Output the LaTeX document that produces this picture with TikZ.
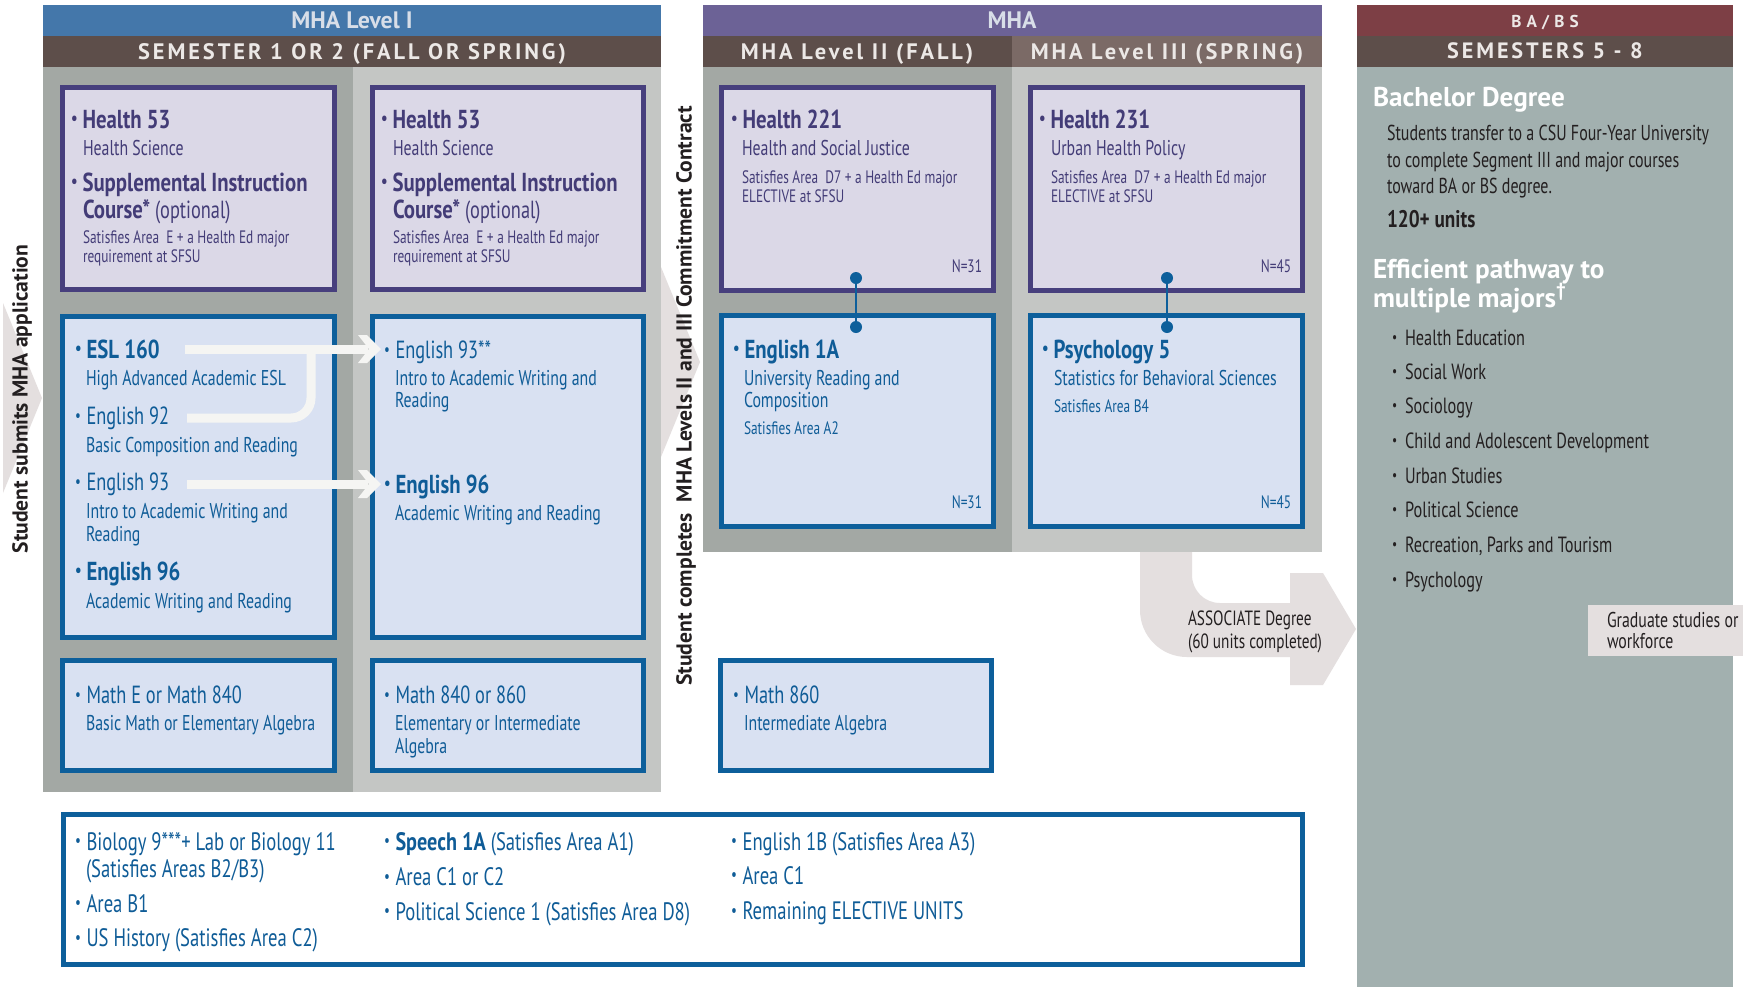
\documentclass[tikz,border=0pt]{standalone}
\usepackage{fontspec}
\usepackage{graphicx}
\setmainfont{PT Sans}
\newfontfamily\cn[FakeStretch=0.74, BoldFeatures={FakeStretch=0.80}]{PT Sans}
\newfontfamily\hsp[LetterSpace=13]{PT Sans}
\newfontfamily\hspw[LetterSpace=30]{PT Sans}
\usetikzlibrary{fit}
\definecolor{hblue}{HTML}{4477AA}
\definecolor{band}{HTML}{5D4E4A}
\definecolor{band2}{HTML}{7B6A66}
\definecolor{hpurp}{HTML}{6C6296}
\definecolor{hred}{HTML}{7D3F45}
\definecolor{gdark}{HTML}{A3A8A4}
\definecolor{glight}{HTML}{C4C6C4}
\definecolor{tealp}{HTML}{A2B0AF}
\definecolor{pbord}{HTML}{473F7D}
\definecolor{pfill}{HTML}{DBD8E7}
\definecolor{ptext}{HTML}{433C77}
\definecolor{bbord}{HTML}{0D5F9B}
\definecolor{bfill}{HTML}{D9E1F2}
\definecolor{btext}{HTML}{0F5C97}
\definecolor{arrowg}{HTML}{E4DFDF}
\definecolor{warr}{HTML}{F5F5F3}
\definecolor{htext}{HTML}{D8DEE8}
\definecolor{htext2}{HTML}{ECE8E6}
\definecolor{darkt}{HTML}{231F20}
\newcommand\fT{\cn\bfseries\fontsize{13}{15}\selectfont}
\newcommand\fR{\cn\fontsize{12.4}{15}\selectfont}
\newcommand\fS{\cn\fontsize{10.7}{12}\selectfont}
\newcommand\fN{\cn\fontsize{9}{10}\selectfont}
\newcommand\fB{\cn\fontsize{12.6}{14}\selectfont}
\newcommand\fM{\cn\fontsize{11}{13}\selectfont}
\newcommand\bl{\makebox[5.75pt][l]{\raisebox{0.12em}{\scalebox{0.7}{\textbullet}}}}
\newcommand\blm{\makebox[6.5pt][l]{\raisebox{0.12em}{\scalebox{0.7}{\textbullet}}}}
\tikzset{
 t/.style={inner sep=0pt, outer sep=0pt, anchor=base west},
 te/.style={inner sep=0pt, outer sep=0pt, anchor=base east},
 tc/.style={inner sep=0pt, outer sep=0pt, anchor=base},
 pbox/.style={draw=pbord, fill=pfill, line width=2.5pt, inner sep=0pt},
 bbox/.style={draw=bbord, fill=bfill, line width=2.5pt, inner sep=0pt},
 dot/.style={circle, fill=bbord, inner sep=0pt, minimum size=6pt},
 conn/.style={draw=bbord, line width=1pt},
 warrow/.style={draw=warr, line width=4.5pt},
 pt/.style={t, text=ptext},
 bt/.style={t, text=btext},
 vtext/.style={rotate=90, inner sep=0pt, text=darkt, font=\bfseries\fontsize{10.8}{12}\selectfont},
 hdA/.style={tc, text=htext, font=\bfseries\fontsize{11.9}{13}\selectfont},
 hdB/.style={tc, text=htext2, font=\hsp\bfseries\fontsize{11.2}{13}\selectfont},
}
\begin{document}
\begin{tikzpicture}[x=0.5pt,y=-0.5pt]
\path[use as bounding box, fill=white] (0,0) rectangle (1743,987);

% process chevrons
\fill[arrowg] (3,303) -- (42,398) -- (3,493) -- cycle;
\fill[arrowg] (661,267) -- (700,362) -- (661,457) -- cycle;
% associate arrow
\fill[arrowg] (1140,540) -- (1140,610) .. controls (1140,636) and (1161,657) .. (1187,657) -- (1296,657) -- (1296,603) -- (1220,603) .. controls (1204.5,603) and (1192,590.5) .. (1192,575) -- (1192,540) -- cycle;
\fill[arrowg] (1290,573) -- (1323,573) -- (1356,629) -- (1323,685) -- (1290,685) -- cycle;

% panels
\fill[gdark] (43,67) rectangle (353,792);
\fill[glight] (353,67) rectangle (661,792);
\fill[hblue] (43,5) rectangle (661,36);
\fill[band] (43,36) rectangle (661,67);
\fill[gdark] (703,67) rectangle (1012,552);
\fill[glight] (1012,67) rectangle (1322,552);
\fill[hpurp] (703,5) rectangle (1322,36);
\fill[band] (703,36) rectangle (1012,67);
\fill[band2] (1012,36) rectangle (1322,67);
\fill[tealp] (1357,67) rectangle (1733,987);
\fill[hred] (1357,5) rectangle (1733,36);
\fill[band] (1357,36) rectangle (1733,67);

% headers
\node[hdA] (hd1) at (352,28) {MHA Level I};
\node[hdB] (hd2) at (352,59) {SEMESTER 1 OR 2 (FALL OR SPRING)};
\node[hdA] (hd3) at (1012,28) {MHA};
\node[hdB] (hd4) at (857,59) {MHA Level II (FALL)};
\node[hdB] (hd5) at (1167,59) {MHA Level III (SPRING)};
\node[tc, text=htext2, font=\hspw\bfseries\fontsize{8.6}{10}\selectfont] (hd6) at (1545,27) {BA/BS};
\node[tc, text=htext2, font=\hsp\bfseries\fontsize{11.1}{13}\selectfont] (hd7) at (1545,58) {SEMESTERS 5 - 8};

% boxes
\node[pbox, fit={(62.5,87.5) (334.5,289.5)}] (h1) {};
\node[pbox, fit={(372.5,87.5) (643.5,289.5)}] (h2) {};
\node[bbox, fit={(62.5,316.5) (334.5,637.5)}] (e1) {};
\node[bbox, fit={(372.5,316.5) (643.5,637.5)}] (e2) {};
\node[bbox, fit={(62.5,660.5) (334.5,770.5)}] (m1) {};
\node[bbox, fit={(372.5,660.5) (643.5,770.5)}] (m2) {};
\node[pbox, fit={(721.5,87.5) (993.5,290.5)}] (h221) {};
\node[pbox, fit={(1030.5,87.5) (1302.5,290.5)}] (h231) {};
\node[bbox, fit={(721.5,315.5) (993.5,526.5)}] (e1a) {};
\node[bbox, fit={(1030.5,315.5) (1302.5,526.5)}] (p5) {};
\node[bbox, fit={(720.5,660.5) (991.5,770.5)}] (m860) {};
\node[bbox, fill=white, fit={(63.5,814.5) (1302.5,964.5)}] (bot) {};

% connectors
\node[dot] (c1) at (856,278) {};
\node[dot] (c2) at (856,327) {};
\node[dot] (c3) at (1167,278) {};
\node[dot] (c4) at (1167,327) {};
\draw[conn] (c1.center) -- (c2.center);
\draw[conn] (c3.center) -- (c4.center);

% white arrows in the ESL box
\coordinate (w1s) at (185,349);
\coordinate (w1e) at (368,349);
\coordinate (w2s) at (187,418);
\coordinate (w2j) at (311,349);
\coordinate (w3s) at (187,484);
\coordinate (w3e) at (368,484);
\draw[warrow] (w1s) -- (w1e);
\draw[warrow, rounded corners=10pt] (w2s) -- (311,418) -- (w2j);
\draw[warrow] (w3s) -- (w3e);
\fill[warr] (358,335) -- (367,335) -- (381,349) -- (367,363) -- (358,363) -- (369,349) -- cycle;
\fill[warr] (358,470) -- (367,470) -- (381,484) -- (367,498) -- (358,498) -- (369,484) -- cycle;

% Health 53 boxes
\node[pt, font=\fT] (h1a) at (71,128) {\bl Health 53};
\node[pt, font=\fS] (h1b) at (83,155) {Health Science};
\node[pt, font=\fT] (h1c) at (71,191) {\bl Supplemental Instruction};
\node[pt, font=\fR] (h1d) at (83,218) {{\bfseries\fontsize{13}{15}\selectfont Course*} (optional)};
\node[pt, font=\fN] (h1e) at (83,243) {Satisfies Area\ \ E + a Health Ed major};
\node[pt, font=\fN] (h1f) at (83,262) {requirement at SFSU};
\node[pt, font=\fT] (h2a) at (381,128) {\bl Health 53};
\node[pt, font=\fS] (h2b) at (393,155) {Health Science};
\node[pt, font=\fT] (h2c) at (381,191) {\bl Supplemental Instruction};
\node[pt, font=\fR] (h2d) at (393,218) {{\bfseries\fontsize{13}{15}\selectfont Course*} (optional)};
\node[pt, font=\fN] (h2e) at (393,243) {Satisfies Area\ \ E + a Health Ed major};
\node[pt, font=\fN] (h2f) at (393,262) {requirement at SFSU};

% ESL box
\node[bt, font=\fT] (e1a1) at (75,358) {\bl ESL 160};
\node[bt, font=\fS] (e1a2) at (86,385) {High Advanced Academic ESL};
\node[bt, font=\fR] (e1a3) at (75,424) {\bl English 92};
\node[bt, font=\fS] (e1a4) at (86,452) {Basic Composition and Reading};
\node[bt, font=\fR] (e1a5) at (75,490) {\bl English 93};
\node[bt, font=\fS] (e1a6) at (86,518) {Intro to Academic Writing and};
\node[bt, font=\fS] (e1a7) at (86,541) {Reading};
\node[bt, font=\fT] (e1a8) at (75,580) {\bl English 96};
\node[bt, font=\fS] (e1a9) at (86,608) {Academic Writing and Reading};
% English 93** box
\node[bt, font=\fR] (e2a1) at (384,358) {\bl English 93**};
\node[bt, font=\fS] (e2a2) at (395,385) {Intro to Academic Writing and};
\node[bt, font=\fS] (e2a3) at (395,407) {Reading};
\node[bt, font=\fT] (e2a4) at (384,493) {\bl English 96};
\node[bt, font=\fS] (e2a5) at (395,520) {Academic Writing and Reading};
% Math boxes
\node[bt, font=\fR] (m1a) at (75,703) {\bl Math E or Math 840};
\node[bt, font=\fS] (m1b) at (86,730) {Basic Math or Elementary Algebra};
\node[bt, font=\fR] (m2a) at (384,703) {\bl Math 840 or 860};
\node[bt, font=\fS] (m2b) at (395,730) {Elementary or Intermediate};
\node[bt, font=\fS] (m2c) at (395,753) {Algebra};

% MHA level II / III
\node[pt, font=\fT] (k1) at (731,128) {\bl Health 221};
\node[pt, font=\fS] (k2) at (742,155) {Health and Social Justice};
\node[pt, font=\fN] (k3) at (742,183) {Satisfies Area\ \ D7 + a Health Ed major};
\node[pt, font=\fN] (k4) at (742,202) {ELECTIVE at SFSU};
\node[te, text=ptext, font=\fN] (k5) at (982,272) {N=31};
\node[pt, font=\fT] (l1) at (1039,128) {\bl Health 231};
\node[pt, font=\fS] (l2) at (1051,155) {Urban Health Policy};
\node[pt, font=\fN] (l3) at (1051,183) {Satisfies Area\ \ D7 + a Health Ed major};
\node[pt, font=\fN] (l4) at (1051,202) {ELECTIVE at SFSU};
\node[te, text=ptext, font=\fN] (l5) at (1291,272) {N=45};
\node[bt, font=\fT] (n1) at (733,358) {\bl English 1A};
\node[bt, font=\fS] (n2) at (744,385) {University Reading and};
\node[bt, font=\fS] (n3) at (744,407) {Composition};
\node[bt, font=\fN] (n4) at (744,434) {Satisfies Area A2};
\node[te, text=btext, font=\fN] (n5) at (982,508) {N=31};
\node[bt, font=\fT] (o1) at (1042,358) {\bl Psychology 5};
\node[bt, font=\fS] (o2) at (1054,385) {Statistics for Behavioral Sciences};
\node[bt, font=\fN] (o3) at (1054,412) {Satisfies Area B4};
\node[te, text=btext, font=\fN] (o4) at (1291,508) {N=45};
\node[bt, font=\fR] (q1) at (733,703) {\bl Math 860};
\node[bt, font=\fS] (q2) at (744,730) {Intermediate Algebra};

% bottom box
\node[bt, font=\fB] (b1) at (75,850) {\bl Biology 9***+ Lab or Biology 11};
\node[bt, font=\fB] (b2) at (86,877) {(Satisfies Areas B2/B3)};
\node[bt, font=\fB] (b3) at (75,912) {\bl Area B1};
\node[bt, font=\fB] (b4) at (75,946) {\bl US History (Satisfies Area C2)};
\node[bt, font=\fB] (b5) at (384,850) {\bl {\bfseries Speech 1A} (Satisfies Area A1)};
\node[bt, font=\fB] (b6) at (384,885) {\bl Area C1 or C2};
\node[bt, font=\fB] (b7) at (384,920) {\bl Political Science 1 (Satisfies Area D8)};
\node[bt, font=\fB] (b8) at (731,850) {\bl English 1B (Satisfies Area A3)};
\node[bt, font=\fB] (b9) at (731,884) {\bl Area C1};
\node[bt, font=\fB] (b10) at (731,919) {\bl Remaining ELECTIVE UNITS};

% right panel
\node[t, text=white, font=\bfseries\fontsize{13.6}{15}\selectfont] (r1) at (1373,106) {Bachelor Degree};
\node[t, text=darkt, font=\cn\fontsize{10.8}{12}\selectfont] (r2) at (1387,140) {Students transfer to a CSU Four-Year University};
\node[t, text=darkt, font=\cn\fontsize{10.8}{12}\selectfont] (r3) at (1387,167) {to complete Segment III and major courses};
\node[t, text=darkt, font=\cn\fontsize{10.8}{12}\selectfont] (r4) at (1387,193) {toward BA or BS degree.};
\node[t, text=darkt, font=\cn\bfseries\fontsize{12}{13}\selectfont] (r5) at (1387,227) {120+ units};
\node[t, text=white, font=\bfseries\fontsize{13.6}{15}\selectfont] (r6) at (1373,278) {Efficient pathway to};
\node[t, text=white, font=\bfseries\fontsize{13.6}{15}\selectfont] (r7) at (1373,307) {multiple majors\textsuperscript{\textdagger}};
\node[t, text=darkt, font=\fM] (j1) at (1392,345) {\blm Health Education};
\node[t, text=darkt, font=\fM] (j2) at (1392,379) {\blm Social Work};
\node[t, text=darkt, font=\fM] (j3) at (1392,413) {\blm Sociology};
\node[t, text=darkt, font=\fM] (j4) at (1392,448) {\blm Child and Adolescent Development};
\node[t, text=darkt, font=\fM] (j5) at (1392,483) {\blm Urban Studies};
\node[t, text=darkt, font=\fM] (j6) at (1392,517) {\blm Political Science};
\node[t, text=darkt, font=\fM] (j7) at (1392,552) {\blm Recreation, Parks and Tourism};
\node[t, text=darkt, font=\fM] (j8) at (1392,587) {\blm Psychology};

% graduate box
\fill[arrowg] (1588,605) rectangle (1743,656);
\node[t, text=darkt, font=\cn\fontsize{10.7}{12}\selectfont] (g1) at (1607,627) {Graduate studies or};
\node[t, text=darkt, font=\cn\fontsize{10.7}{12}\selectfont] (g2) at (1607,648) {workforce};

% associate text
\node[t, text=darkt, font=\cn\fontsize{10.3}{12}\selectfont] (as1) at (1188,625) {ASSOCIATE Degree};
\node[t, text=darkt, font=\cn\fontsize{10.3}{12}\selectfont] (as2) at (1188,648) {(60 units completed)};

% vertical labels
\node[vtext] (v1) at (22,399) {Student submits MHA application};
\node[vtext] (v2) at (686,396) {Student completes\ \ MHA Levels II and III Commitment Contract};
\end{tikzpicture}
\end{document}
